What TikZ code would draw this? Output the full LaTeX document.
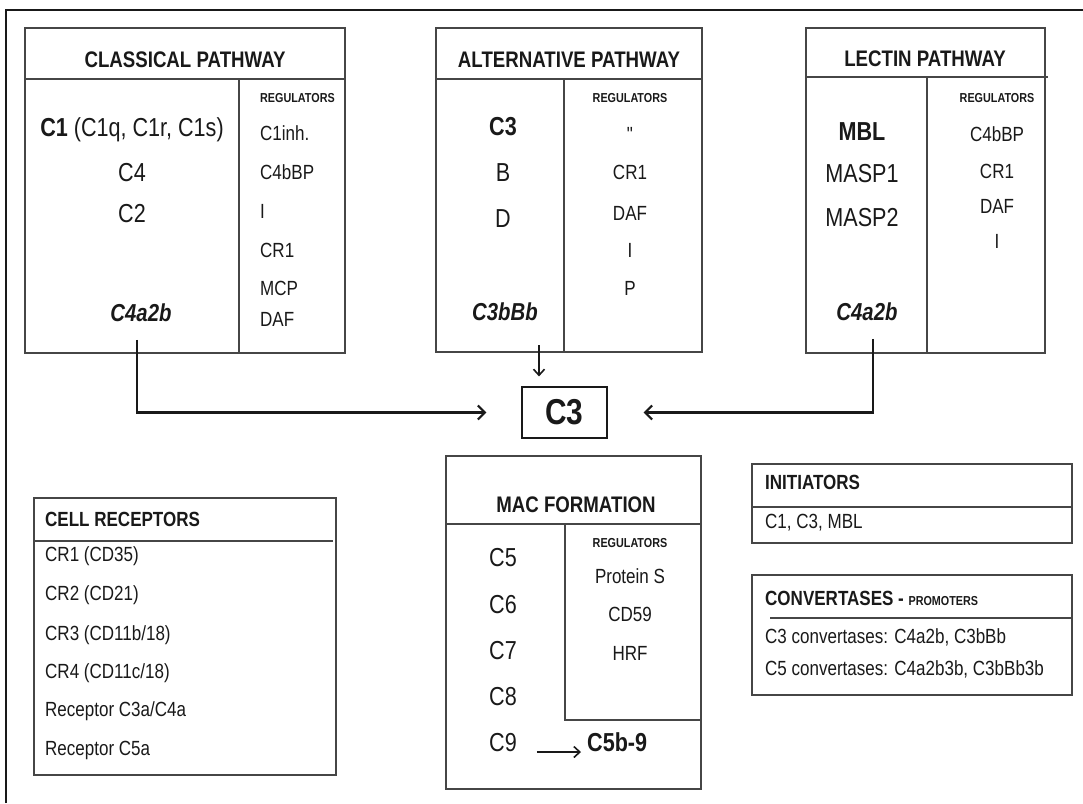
\documentclass[tikz,border=0pt]{standalone}
\usepackage{fontspec}
\setmainfont{Liberation Sans}[FakeStretch=0.83]
\newfontfamily\rawsans{Liberation Sans}[FakeStretch=0.83]
\usepackage{tikz}
\usetikzlibrary{arrows.meta,positioning}
\definecolor{boxline}{RGB}{70,70,70}
\definecolor{inkcolor}{RGB}{25,25,25}
\newcommand{\setsz}[1]{\fontsize{#1}{#1}\selectfont}

\begin{document}
\begin{tikzpicture}[x=1pt,y=-1pt,
    panel/.style={draw=boxline, line width=1.1pt},
    txt/.style={inner sep=0pt, text=inkcolor, text height=0.72em, text depth=0pt},
    head/.style={txt, font=\bfseries\setsz{22.5}},
    subhead/.style={txt, font=\bfseries\setsz{20.5}, anchor=west},
    regs/.style={txt, font=\bfseries\setsz{13}},
    big/.style={txt, font=\setsz{26}},
    small/.style={txt, font=\setsz{20.5}},
    conv/.style={txt, font=\bfseries\itshape\setsz{24.5}},
    flow/.style={draw=inkcolor, line width=2.2pt, -{Straight Barb[length=7pt,width=14pt]}}
]
\useasboundingbox (0,0) rectangle (1083,803);
\draw[line width=1.8pt, inkcolor] (6,803) -- (6,10) -- (1083,10);

% classical pathway
\draw[panel] (25,28) rectangle (345,353);
\draw[panel] (25,79) -- (345,79) (239,79) -- (239,353);
\node[head] (clTitle) at (185,64) {CLASSICAL PATHWAY};
\node[regs, anchor=west] (clReg) at (260,99) {REGULATORS};
\node[big] (clC1) at (132,133) {\textbf{C1} (C1q, C1r, C1s)};
\node[big] (clC4) at (132,178) {C4};
\node[big] (clC2) at (132,219) {C2};
\node[conv] (clConv) at (141,318) {C4a2b};
\foreach \name/\yy [count=\i] in {C1inh./137, C4bBP/176, I/215, CR1/254, MCP/292, DAF/323}
  \node[small, anchor=west] (clR\i) at (260,\yy) {\name};

% alternative pathway
\draw[panel] (436,28) rectangle (702,352);
\draw[panel] (436,79) -- (702,79) (564,79) -- (564,352);
\node[head] (alTitle) at (569,64) {ALTERNATIVE PATHWAY};
\node[regs] (alReg) at (630,99) {REGULATORS};
\node[big, font=\bfseries\setsz{26}] (alC3) at (503,132) {C3};
\node[big] (alB) at (503,178) {B};
\node[big] (alD) at (503,224) {D};
\node[conv] (alConv) at (505,317) {C3bBb};
\foreach \name/\yy [count=\i] in {{\rawsans"}/138, CR1/176, DAF/217, I/254, P/292}
  \node[small] (alR\i) at (630,\yy) {\name};

% lectin pathway
\draw[panel] (806,28) rectangle (1045,353);
\draw[panel] (806,77) -- (1048,77) (927,77) -- (927,353);
\node[head] (lcTitle) at (925,63) {LECTIN PATHWAY};
\node[regs] (lcReg) at (997,99) {REGULATORS};
\node[big, font=\bfseries\setsz{26}] (lcMBL) at (862,137) {MBL};
\node[big] (lcM1) at (862,179) {MASP1};
\node[big] (lcM2) at (862,223) {MASP2};
\node[conv] (lcConv) at (867,317) {C4a2b};
\foreach \name/\yy [count=\i] in {C4bBP/138, CR1/175, DAF/210, I/245}
  \node[small] (lcR\i) at (997,\yy) {\name};

% C3 and the three inputs
\node[draw=inkcolor, line width=1.2pt, minimum width=85pt, minimum height=51pt,
  inner sep=0pt, text=inkcolor, font=\bfseries\setsz{36}] (c3) at (564.5,412.5) {C3};
\coordinate (alDrop) at (539,345);
\draw[flow] ([xshift=-4pt,yshift=-18pt]clConv.south) |- ([xshift=-35pt]c3.west);
\draw[flow, line width=1.6pt, -{Straight Barb[length=6pt,width=11pt]}] (alDrop) -- ([yshift=10pt]alDrop |- c3.north);
\draw[flow] ([xshift=6pt,yshift=-18pt]lcConv.south) |- ([xshift=36pt]c3.east);

% MAC formation
\draw[panel] (446,456) rectangle (701,789);
\draw[panel] (446,524) -- (701,524);
\draw[panel] (565,524) -- (565,720) -- (701,720);
\node[head] (macTitle) at (576,509) {MAC FORMATION};
\node[regs] (macReg) at (630,544) {REGULATORS};
\foreach \name/\yy [count=\i] in {C5/563, C6/610, C7/656, C8/702, C9/748}
  \node[big, anchor=west] (mac\i) at (489,\yy) {\name};
\node[big, font=\bfseries\setsz{26}, anchor=west] (macEnd) at (587,748) {C5b-9};
\foreach \name/\yy [count=\i] in {Protein S/580, CD59/618, HRF/657}
  \node[small] (macR\i) at (630,\yy) {\name};
\draw[flow, line width=1.6pt, -{Straight Barb[length=6pt,width=11pt]}]
  ([xshift=20pt,yshift=-4pt]mac5.east) -- ([xshift=-6pt,yshift=-4pt]macEnd.west);

% cell receptors
\draw[panel] (34,498) rectangle (336,775);
\draw[panel] (34,541) -- (333,541);
\node[subhead] (crTitle) at (45,523) {CELL RECEPTORS};
\foreach \name/\yy [count=\i] in {{CR1 (CD35)}/558, {CR2 (CD21)}/597, {CR3 (CD11b/18)}/637,
    {CR4 (CD11c/18)}/675, {Receptor C3a/C4a}/713, {Receptor C5a}/752}
  \node[small, anchor=west] (cr\i) at (45,\yy) {\name};

% initiators
\draw[panel] (752,464) rectangle (1072,543);
\draw[panel] (752,507) -- (1072,507);
\node[subhead] (inTitle) at (765,486) {INITIATORS};
\node[small, anchor=west] (inList) at (765,525) {C1, C3, MBL};

% convertases
\draw[panel] (752,575) rectangle (1072,695);
\draw[panel] (770,618) -- (1072,618);
\node[subhead] (cvTitle) at (765,602) {CONVERTASES - {\setsz{13}PROMOTERS}};
\node[small, anchor=west] (cv3) at (765,640) {C3 convertases: C4a2b, C3bBb};
\node[small, anchor=west] (cv5) at (765,672) {C5 convertases: C4a2b3b, C3bBb3b};
\end{tikzpicture}
\end{document}
